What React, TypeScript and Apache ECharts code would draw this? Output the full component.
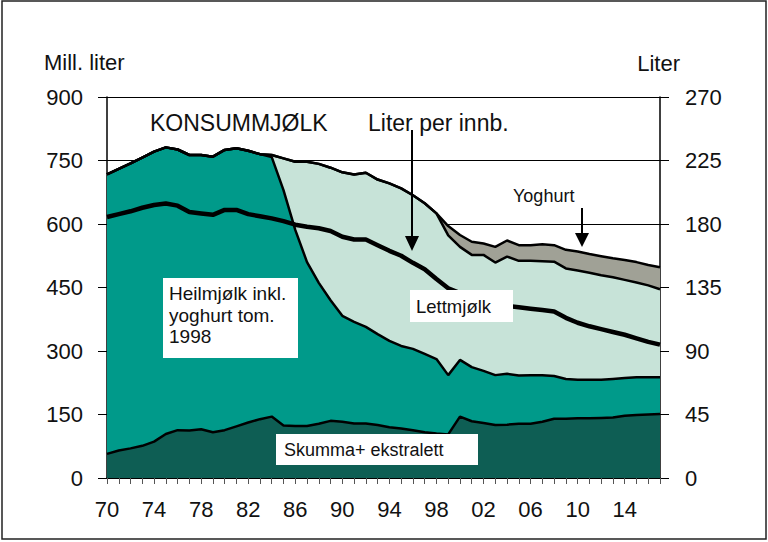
import React, { useEffect, useRef } from "react";
import * as echarts from "echarts";

// years 1970-2017
const years: string[] = [];
for (let y = 1970; y <= 2017; y++) years.push(String(y));

// Mill. liter
const skumma = [
  57, 65, 70, 76, 86, 104, 113, 112, 115, 108,
  113, 122, 131, 139, 145, 124, 123, 123, 128, 135,
  133, 129, 129, 125, 120, 117, 113, 108, 105, 103,
  145, 134, 130, 125, 126, 128, 128, 133, 140, 140,
  141, 141, 142, 143, 147, 149, 150, 151,
];
const heilmjolk = [
  660, 665, 673, 681, 685, 677, 663, 651, 648, 651,
  662, 657, 642, 626, 613, 556, 463, 387, 333, 285,
  250, 240, 228, 215, 204, 195, 192, 185, 176, 140,
  134, 128, 123, 118, 120, 114, 115, 110, 101, 94,
  91, 91, 90, 91, 89, 89, 88, 87,
];
const lettmjolk = [
  0, 0, 0, 0, 0, 0, 0, 0, 0, 0,
  0, 0, 0, 0, 5, 75, 161, 237, 281, 313,
  339, 348, 364, 365, 372, 372, 363, 356, 344, 330,
  267, 265, 274, 266, 277, 271, 270, 269, 270, 261,
  258, 253, 247, 240, 232, 224, 217, 208,
];
const yoghurt = [
  0, 0, 0, 0, 0, 0, 0, 0, 0, 0,
  0, 0, 0, 0, 0, 0, 0, 0, 0, 0,
  0, 0, 0, 0, 0, 0, 0, 0, 0, 22,
  28, 31, 27, 37, 38, 37, 37, 40, 39, 44,
  45, 44, 45, 45, 47, 48, 48, 52,
];
// Liter per innbygger (right axis)
const perInnb = [
  185, 187, 189, 191.5, 193.5, 194.5, 193, 188.5, 187.5, 186.5,
  190, 190, 187, 185.5, 184, 182, 179.5, 178, 177, 175,
  171, 169, 169, 165, 161, 157.5, 152.5, 148, 141, 134.5,
  131, 128, 126, 124, 122, 121, 120, 119, 118, 113.5,
  110, 107.5, 105.5, 103.5, 101.5, 99, 96.5, 94.5,
];

const FONT = "'Liberation Sans', Arial, sans-serif";

const areaSeries = (name: string, data: number[], color: string) => ({
  name,
  type: "line",
  stack: "total",
  data,
  symbol: "none",
  yAxisIndex: 0,
  lineStyle: { color: "#000", width: 2.5 },
  areaStyle: { color, opacity: 1 },
});

const App: React.FC = () => {
  const chartRef = useRef<HTMLDivElement>(null);

  useEffect(() => {
    if (!chartRef.current) return;
    const chart = echarts.init(chartRef.current, undefined, { renderer: "svg" });

    const axisText = { color: "#111", fontSize: 22, fontFamily: FONT };

    chart.setOption({
      animation: false,
      backgroundColor: "#fff",
      grid: { left: 107, right: 108, top: 97, bottom: 64 },
      xAxis: {
        type: "category",
        data: years,
        boundaryGap: false,
        axisLine: { lineStyle: { color: "#000", width: 1.5 } },
        axisTick: { interval: 0, length: 6, lineStyle: { color: "#555" } },
        axisLabel: {
          ...axisText,
          interval: 3,
          margin: 20,
          formatter: (v: string) => v.slice(2),
        },
        splitLine: { show: false },
      },
      yAxis: [
        {
          type: "value",
          min: 0,
          max: 900,
          interval: 150,
          axisLine: { show: true, lineStyle: { color: "#000", width: 1.5 } },
          axisTick: { show: true, length: 9, lineStyle: { color: "#000" } },
          axisLabel: { ...axisText, margin: 24 },
          splitLine: { show: true, lineStyle: { color: "#000", width: 1 } },
        },
        {
          type: "value",
          position: "right",
          min: 0,
          max: 270,
          interval: 45,
          axisLine: { show: true, lineStyle: { color: "#000", width: 1.5 } },
          axisTick: { show: true, length: 9, lineStyle: { color: "#000" } },
          axisLabel: { ...axisText, margin: 25 },
          splitLine: { show: false },
        },
      ],
      series: [
        areaSeries("Skumma+ ekstralett", skumma, "#0e5e54"),
        areaSeries("Heilmjølk", heilmjolk, "#009a8a"),
        areaSeries("Lettmjølk", lettmjolk, "#c7e3d8"),
        areaSeries("Yoghurt", yoghurt, "#a0a196"),
        {
          name: "Liter per innb.",
          type: "line",
          yAxisIndex: 1,
          data: perInnb,
          symbol: "none",
          z: 5,
          lineStyle: { color: "#000", width: 4.5 },
        },
      ],
      graphic: [
        {
          type: "rect",
          shape: { x: 2, y: 1, width: 764, height: 538 },
          style: { fill: "none", stroke: "#222", lineWidth: 1.5 },
          silent: true,
        },
        {
          type: "text",
          style: { x: 44, y: 62, text: "Mill. liter", fontSize: 22, fontFamily: FONT, fill: "#111", verticalAlign: "middle" },
        },
        {
          type: "text",
          style: { x: 680, y: 63, text: "Liter", fontSize: 22, fontFamily: FONT, fill: "#111", align: "right", verticalAlign: "middle" },
        },
        {
          type: "text",
          z: 10,
          style: { x: 150, y: 123, text: "KONSUMMJØLK", fontSize: 23, fontFamily: FONT, fill: "#111", verticalAlign: "middle" },
        },
        {
          type: "text",
          z: 10,
          style: { x: 368, y: 123, text: "Liter per innb.", fontSize: 23, fontFamily: FONT, fill: "#111", verticalAlign: "middle" },
        },
        {
          type: "line",
          z: 10,
          shape: { x1: 412, y1: 130, x2: 412, y2: 240 },
          style: { stroke: "#000", lineWidth: 2 },
        },
        {
          type: "polygon",
          z: 10,
          shape: { points: [[405, 236], [419, 236], [412, 251]] },
          style: { fill: "#000" },
        },
        {
          type: "text",
          z: 10,
          style: { x: 513, y: 196, text: "Yoghurt", fontSize: 18, fontFamily: FONT, fill: "#111", verticalAlign: "middle" },
        },
        {
          type: "line",
          z: 10,
          shape: { x1: 582, y1: 208, x2: 582, y2: 236 },
          style: { stroke: "#000", lineWidth: 2 },
        },
        {
          type: "polygon",
          z: 10,
          shape: { points: [[575, 233], [589, 233], [582, 247]] },
          style: { fill: "#000" },
        },
        {
          type: "rect",
          z: 10,
          shape: { x: 163, y: 278, width: 135, height: 80 },
          style: { fill: "#fff" },
        },
        {
          type: "text",
          z: 11,
          style: {
            x: 169,
            y: 283,
            text: "Heilmjølk inkl.\nyoghurt tom.\n1998",
            fontSize: 19,
            lineHeight: 21.5,
            fontFamily: FONT,
            fill: "#111",
            verticalAlign: "top",
          },
        },
        {
          type: "rect",
          z: 10,
          shape: { x: 410, y: 290, width: 103, height: 32 },
          style: { fill: "#fff" },
        },
        {
          type: "text",
          z: 11,
          style: { x: 416, y: 306, text: "Lettmjølk", fontSize: 18.5, fontFamily: FONT, fill: "#111", verticalAlign: "middle" },
        },
        {
          type: "rect",
          z: 10,
          shape: { x: 276, y: 434, width: 202, height: 31 },
          style: { fill: "#fff" },
        },
        {
          type: "text",
          z: 11,
          style: { x: 284, y: 450, text: "Skumma+ ekstralett", fontSize: 18, fontFamily: FONT, fill: "#111", verticalAlign: "middle" },
        },
      ],
    });

    return () => {
      chart.dispose();
    };
  }, []);

  return (
    <div
      ref={chartRef}
      style={{ position: "absolute", left: 0, top: 0, width: "768px", height: "542px" }}
    />
  );
};

export default App;
